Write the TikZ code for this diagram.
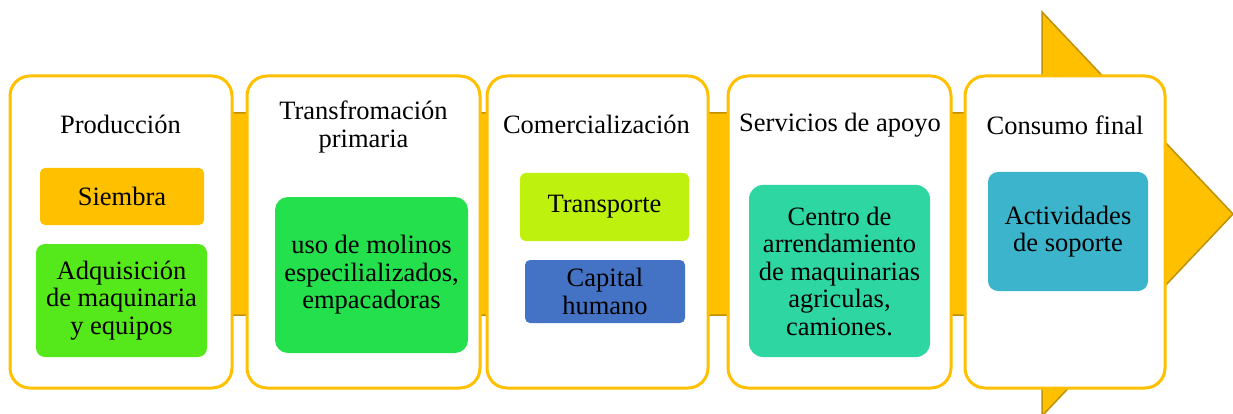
\documentclass[tikz,border=0pt]{standalone}
\usepackage{fontspec}
\setmainfont{Liberation Serif}
\newfontfamily\letra{Liberation Serif}
\usetikzlibrary{shapes,arrows}

\definecolor{oro}{HTML}{FFC000}
\definecolor{orooscuro}{HTML}{BF9000}
\definecolor{verdea}{HTML}{55E81A}
\definecolor{verdeb}{HTML}{24E04C}
\definecolor{limon}{HTML}{BEF20E}
\definecolor{azul}{HTML}{4472C4}
\definecolor{menta}{HTML}{2ED6A2}
\definecolor{turquesa}{HTML}{3BB4CC}

\begin{document}
\begin{tikzpicture}[x=1pt,y=-1pt]
\tikzstyle{every node}=[inner sep=0pt,outer sep=0pt,font=\letra\fontsize{26.5}{27.5}\selectfont]
\tikzstyle{etapa}=[rectangle,draw=oro,line width=3pt,fill=white,rounded corners=20pt,minimum height=312pt]
\tikzstyle{titulo}=[align=center]
\tikzstyle{caja}=[rectangle,align=center,rounded corners=9pt]
\useasboundingbox (0,0) rectangle (1233,414);
% flecha de fondo
\draw[fill=oro,draw=orooscuro,line width=1.5pt] (10,113) -- (1042,113) -- (1042,12) -- (1233,214)
  -- (1042,416) -- (1042,315) -- (10,315) -- cycle;
% etapas
\node[etapa,minimum width=222pt] (prod) at (121,232) {};
\node[etapa,minimum width=233pt] (trans) at (363.5,232) {};
\node[etapa,minimum width=221pt] (comer) at (597.5,232) {};
\node[etapa,minimum width=223pt] (serv) at (839.5,232) {};
\node[etapa,minimum width=200pt] (cons) at (1065,232) {};
% titulos
\node[titulo] (tprod) at (120.5,124) {Producci\'on};
\node[titulo] (ttrans) at (363.5,127) {Transfromaci\'on\\primaria};
\node[titulo] (tcomer) at (596.5,124) {Comercializaci\'on};
\node[titulo] (tserv) at (840,125) {Servicios de apoyo};
\node[titulo] (tcons) at (1065,125) {Consumo final};
% cajas internas
\node[caja,fill=oro,minimum width=164pt,minimum height=57pt,rounded corners=5pt] (siembra) at (122,196.5) {Siembra};
\node[caja,fill=verdea,minimum width=171pt,minimum height=113pt] (adq) at (121.5,300.5) {Adquisici\'on\\de maquinaria\\y equipos};
\node[caja,fill=verdeb,minimum width=193pt,minimum height=156pt,rounded corners=13pt] (molinos) at (371.5,275) {uso de molinos\\especilializados,\\empacadoras};
\node[caja,fill=limon,minimum width=169pt,minimum height=68pt,rounded corners=6pt] (transp) at (604.5,207) {Transporte};
\node[caja,fill=azul,minimum width=160pt,minimum height=63pt,rounded corners=5pt] (capital) at (605,291.5) {Capital\\humano};
\node[caja,fill=menta,minimum width=181pt,minimum height=172pt,rounded corners=14pt] (centro) at (839.5,271) {Centro de\\arrendamiento\\de maquinarias\\agriculas,\\camiones.};
\node[caja,fill=turquesa,minimum width=160pt,minimum height=119pt,rounded corners=10pt] (activ) at (1068,231.5) {Actividades\\de soporte};
\end{tikzpicture}
\end{document}
